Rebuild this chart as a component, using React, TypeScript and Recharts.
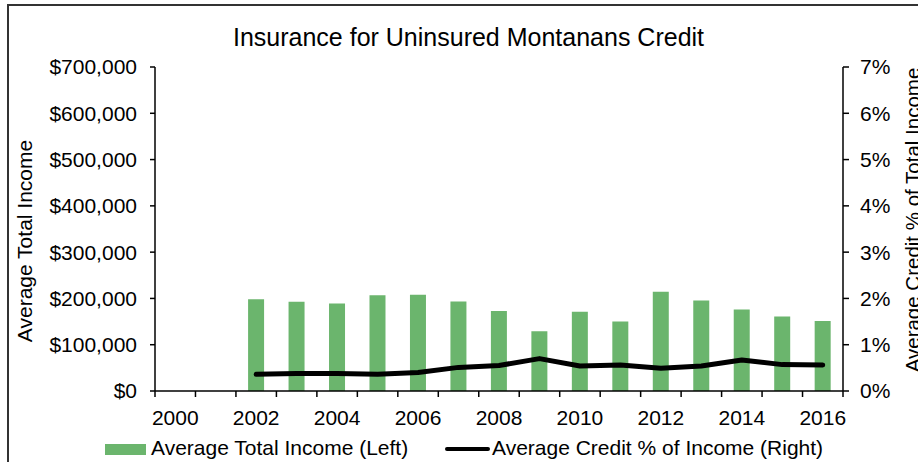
import React from 'react';
import { ComposedChart, Bar, Line, XAxis, YAxis, Legend } from 'recharts';

const years = ['2000','2001','2002','2003','2004','2005','2006','2007','2008','2009','2010','2011','2012','2013','2014','2015','2016'];
const avgIncome = [null, null, 198000, 193000, 189000, 207000, 208000, 193500, 173000, 129000, 171000, 150000, 214500, 195700, 176000, 161000, 151500];
const creditPct = [null, null, 0.36, 0.38, 0.38, 0.36, 0.40, 0.51, 0.55, 0.70, 0.54, 0.56, 0.49, 0.54, 0.67, 0.57, 0.56];
const leftTicks = [0, 100000, 200000, 300000, 400000, 500000, 600000, 700000];
const rightTicks = [0, 1, 2, 3, 4, 5, 6, 7];

const data = years.map((y, i) => ({ year: y, income: avgIncome[i], pct: creditPct[i] }));

const FONT = '"Liberation Sans", Arial, sans-serif';
const GREEN = '#6BB56D';
const X_TICK_SIZE = 6;
const X_TICK_MARGIN = 13;
const TICK_FONT = 21;

const XTick = (props: any) => {
  const { x, y, payload, index } = props;
  const half = payload && typeof payload.offset === 'number' && payload.offset > 0 ? payload.offset : 20.24;
  const axisY = y - X_TICK_SIZE - X_TICK_MARGIN;
  const isLast = index === years.length - 1;
  const showLabel = Number(payload.value) % 2 === 0;
  return (
    <g>
      <line x1={x - half} x2={x - half} y1={axisY} y2={axisY + X_TICK_SIZE} stroke="#000" strokeWidth={1.5} />
      {isLast && (
        <line x1={x + half} x2={x + half} y1={axisY} y2={axisY + X_TICK_SIZE} stroke="#000" strokeWidth={1.5} />
      )}
      {showLabel && (
        <text x={x} y={y} dy="0.71em" textAnchor="middle" fontSize={TICK_FONT} fontFamily={FONT} fill="#000">
          {payload.value}
        </text>
      )}
    </g>
  );
};

const leftLabel = (props: any) => {
  const vb = props.viewBox || { x: 0, y: 67, width: 155, height: 324 };
  const cx = vb.x + 32;
  const cy = vb.y + vb.height / 2 + 12;
  return (
    <text x={cx} y={cy} transform={`rotate(-90, ${cx}, ${cy})`} textAnchor="middle" fontSize={21} fontFamily={FONT} fill="#000">
      Average Total Income
    </text>
  );
};

const rightLabel = (props: any) => {
  const vb = props.viewBox || { x: 843, y: 67, width: 75, height: 324 };
  const cx = vb.x + 77;
  const cy = vb.y + vb.height / 2 - 9;
  return (
    <text x={cx} y={cy} transform={`rotate(-90, ${cx}, ${cy})`} textAnchor="middle" fontSize={20.5} fontFamily={FONT} fill="#000">
      Average Credit % of Total Income
    </text>
  );
};

const renderLegend = (props: any) => {
  const payload = props.payload || [];
  const barItem = payload.find((p: any) => p.type === 'rect') || payload[0];
  const lineItem = payload.find((p: any) => p.type === 'line') || payload[1];
  const textStyle: React.CSSProperties = { position: 'absolute', top: 0, lineHeight: '26px', fontSize: 21, fontFamily: FONT, color: '#000', whiteSpace: 'nowrap' };
  return (
    <div style={{ position: 'relative', width: 918, height: 26 }}>
      <div style={{ position: 'absolute', left: 105, top: 9, width: 41, height: 11, background: GREEN }} />
      <span style={{ ...textStyle, left: 151 }}>{barItem ? barItem.value : 'Average Total Income (Left)'}</span>
      <div style={{ position: 'absolute', left: 445, top: 12, width: 45, height: 4, background: '#000', borderRadius: 2 }} />
      <span style={{ ...textStyle, left: 492 }}>{lineItem ? lineItem.value : 'Average Credit % of Income (Right)'}</span>
    </div>
  );
};

export default function App() {
  return (
    <div style={{ position: 'absolute', left: 0, top: 0, width: 918, height: 462, overflow: 'hidden', background: '#fff' }}>
      <div style={{ position: 'absolute', left: 7, top: 4, width: 2000, height: 2000, border: '2px solid #333', boxSizing: 'border-box' }} />
      <div style={{ position: 'absolute', left: 0, top: 25, width: 937, textAlign: 'center', fontFamily: FONT, fontSize: 25, lineHeight: '25px', color: '#000', whiteSpace: 'nowrap' }}>
        Insurance for Uninsured Montanans Credit
      </div>
      <div style={{ position: 'absolute', left: 0, top: 0 }}>
        <ComposedChart width={918} height={462} data={data} margin={{ top: 67, right: 0, bottom: 0, left: 0 }} barCategoryGap="30%">
          <XAxis
            dataKey="year"
            interval={0}
            height={71}
            tickLine={false}
            tickSize={X_TICK_SIZE}
            tickMargin={X_TICK_MARGIN}
            axisLine={{ stroke: '#000', strokeWidth: 1.5 }}
            tick={<XTick />}
          />
          <YAxis
            yAxisId="left"
            orientation="left"
            width={155}
            domain={[0, 700000]}
            ticks={leftTicks}
            interval={0}
            tickFormatter={(v: number) => '$' + v.toLocaleString('en-US')}
            tickSize={5}
            tickMargin={13}
            axisLine={{ stroke: '#000', strokeWidth: 1.5 }}
            tickLine={{ stroke: '#000', strokeWidth: 1.5 }}
            tick={{ fontSize: TICK_FONT, fontFamily: FONT, fill: '#000' }}
            label={{ content: leftLabel }}
          />
          <YAxis
            yAxisId="right"
            orientation="right"
            width={75}
            domain={[0, 7]}
            ticks={rightTicks}
            interval={0}
            tickFormatter={(v: number) => v + '%'}
            tickSize={6}
            tickMargin={11}
            axisLine={{ stroke: '#000', strokeWidth: 1.5 }}
            tickLine={{ stroke: '#000', strokeWidth: 1.5 }}
            tick={{ fontSize: TICK_FONT, fontFamily: FONT, fill: '#000' }}
            label={{ content: rightLabel }}
          />
          <Bar yAxisId="left" dataKey="income" name="Average Total Income (Left)" fill={GREEN} isAnimationActive={false} />
          <Line
            yAxisId="right"
            type="linear"
            dataKey="pct"
            name="Average Credit % of Income (Right)"
            stroke="#000"
            strokeWidth={5}
            strokeLinecap="round"
            strokeLinejoin="round"
            dot={false}
            activeDot={false}
            isAnimationActive={false}
          />
          <Legend
            layout="horizontal"
            verticalAlign="middle"
            align="center"
            content={renderLegend}
            wrapperStyle={{ position: 'absolute', top: 435, left: 0, width: 918, height: 26 }}
          />
        </ComposedChart>
      </div>
    </div>
  );
}
